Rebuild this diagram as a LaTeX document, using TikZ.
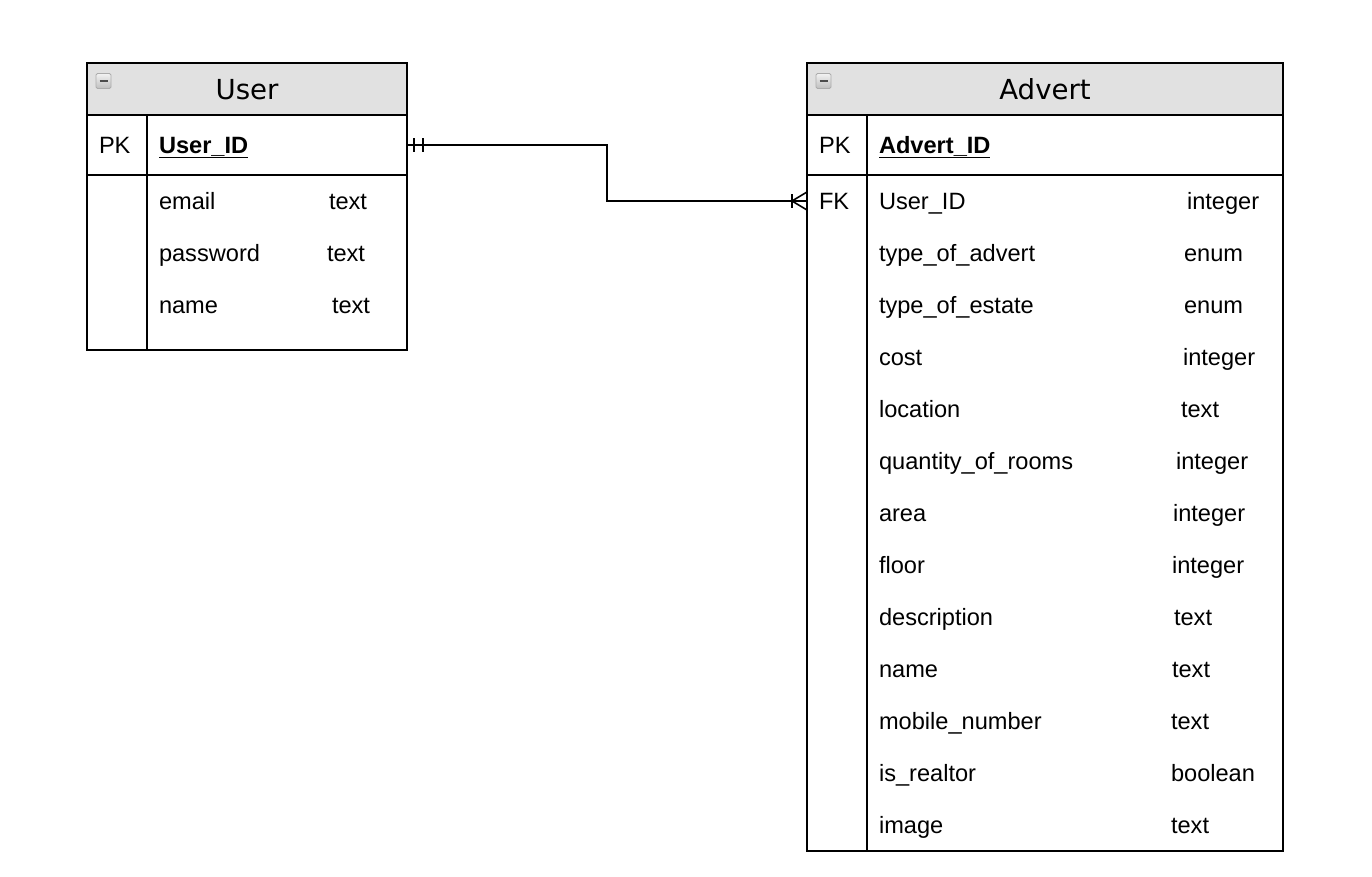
\documentclass[tikz,border=0pt]{standalone}
\usepackage{fontspec}
\setmainfont{Liberation Sans}
\newfontfamily\hdrfont{DejaVu Sans}
\begin{document}
\begin{tikzpicture}[x=1pt,y=-1pt,
  line width=2pt,
  tblarea/.style={draw=none, minimum width=#1, anchor=north west, inner sep=0pt, outer sep=0pt},
  hdr/.style={fill=hdrgray, draw=none},
  outline/.style={draw=black, line width=2pt},
  icon/.style={top color=gray!10, bottom color=gray!50, draw=gray!65, line width=0.8pt, rounded corners=1.5pt},
  icondash/.style={line width=2.6pt, draw=black!70},
  title/.style={anchor=base, inner sep=0pt, font=\hdrfont\fontsize{27.6}{30}\selectfont},
  cell/.style={anchor=base west, inner sep=0pt, font=\fontsize{23.6}{26}\selectfont},
  keycell/.style={anchor=base west, inner sep=0pt, font=\bfseries\fontsize{23.6}{26}\selectfont},
  rel/.style={draw=black, line width=2pt},
  relmark/.style={draw=black, line width=1.6pt}]
\definecolor{hdrgray}{HTML}{E1E1E1}
\useasboundingbox (0,0) rectangle (1372,876);
\fill[white] (0,0) rectangle (1372,876);

% ---------- User table ----------
\node[tblarea=320pt, minimum height=287pt] (user) at (87,63) {};
\fill[hdr] (87,63) rectangle (407,115);
\draw[outline] (user.north west) rectangle (user.south east);
\draw[outline] (87,115) -- (407,115);
\draw[outline] (87,175) -- (407,175);
\draw[outline] (147,115) -- (147,350);
\shade[icon] (96,73.5) rectangle (111,88.5);
\draw[icondash] (99.5,81) -- (107.5,81);
\node[title] (usertitle) at (247,99) {User};
\node[cell] (userpk) at (98,153) {PK};
\node[keycell] (userid) at (158,153) {\underline{User\_ID}};
\node[cell] (uemail) at (158,209.5) {email};
\node[cell] (uemailt) at (328,209.5) {text};
\node[cell] (upass) at (158,261.5) {password};
\node[cell] (upasst) at (326,261.5) {text};
\node[cell] (uname) at (158,313.5) {name};
\node[cell] (unamet) at (331,313.5) {text};

% ---------- Advert table ----------
\node[tblarea=476pt, minimum height=788pt] (advert) at (807,63) {};
\fill[hdr] (807,63) rectangle (1283,115);
\draw[outline] (advert.north west) rectangle (advert.south east);
\draw[outline] (807,115) -- (1283,115);
\draw[outline] (807,175) -- (1283,175);
\draw[outline] (867,115) -- (867,851);
\shade[icon] (816,73.5) rectangle (831,88.5);
\draw[icondash] (819.5,81) -- (827.5,81);
\node[title] (adverttitle) at (1045,99) {Advert};
\node[cell] (advpk) at (818,153) {PK};
\node[keycell] (advid) at (878,153) {\underline{Advert\_ID}};
\node[cell] (advfk) at (818,209.5) {FK};
\foreach \nm/\ty/\tx [count=\i from 0] in {
  User\_ID/integer/1186,
  type\_of\_advert/enum/1183,
  type\_of\_estate/enum/1183,
  cost/integer/1182,
  location/text/1180,
  quantity\_of\_rooms/integer/1175,
  area/integer/1172,
  floor/integer/1171,
  description/text/1173,
  name/text/1171,
  mobile\_number/text/1170,
  is\_realtor/boolean/1170,
  image/text/1170}{
  \node[cell] (an\i) at (878,209.5+52*\i) {\nm};
  \node[cell] (at\i) at (\tx,209.5+52*\i) {\ty};
}

% ---------- Relationship ----------
\coordinate (uidE) at (user.east |- 0,145);
\coordinate (fkW) at (advert.west |- 0,201);
\draw[rel] (uidE) -- (607,145) -- (607,201) -- (fkW);
% one-and-only-one
\draw[relmark] (414,138) -- (414,152);
\draw[relmark] (423,138) -- (423,152);
% one-or-many
\draw[relmark] (792,194) -- (792,208);
\draw[relmark] (792,201) -- (807,192);
\draw[relmark] (792,201) -- (807,210);
\end{tikzpicture}
\end{document}
